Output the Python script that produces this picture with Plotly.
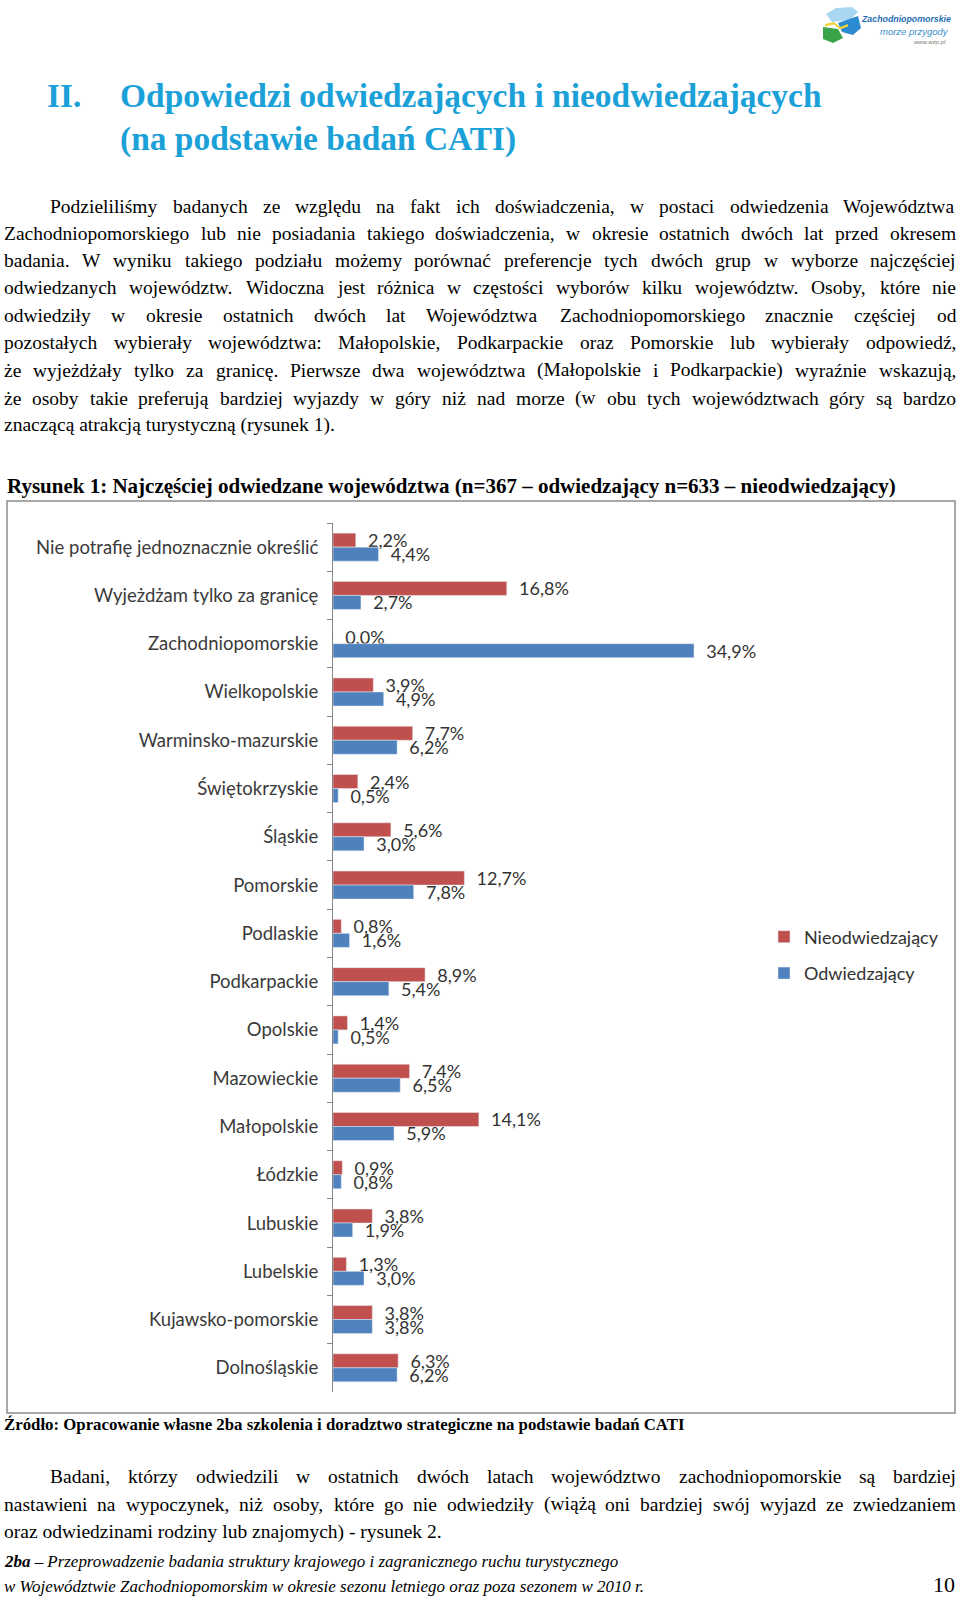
import plotly.graph_objects as go

W, H = 960, 1597

# ---------------- data ----------------
categories = ["Nie potrafię jednoznacznie określić", "Wyjeżdżam tylko za granicę",
              "Zachodniopomorskie", "Wielkopolskie", "Warminsko-mazurskie",
              "Świętokrzyskie", "Śląskie", "Pomorskie", "Podlaskie", "Podkarpackie",
              "Opolskie", "Mazowieckie", "Małopolskie", "Łódzkie", "Lubuskie",
              "Lubelskie", "Kujawsko-pomorskie", "Dolnośląskie"]
nieodwiedzajacy = [2.2, 16.8, 0.0, 3.9, 7.7, 2.4, 5.6, 12.7, 0.8, 8.9,
                   1.4, 7.4, 14.1, 0.9, 3.8, 1.3, 3.8, 6.3]
odwiedzajacy = [4.4, 2.7, 34.9, 4.9, 6.2, 0.5, 3.0, 7.8, 1.6, 5.4,
                0.5, 6.5, 5.9, 0.8, 1.9, 3.0, 3.8, 6.2]
series_names = ["Nieodwiedzający", "Odwiedzający"]
series_colors = ["#C0504D", "#4F81BD"]

# ---------------- page text ----------------
title_num = "II."
title_lines = ["Odpowiedzi odwiedzających i nieodwiedzających",
               "(na podstawie badań CATI)"]
para1 = ["Podzieliliśmy badanych ze względu na fakt ich doświadczenia, w postaci odwiedzenia Województwa",
         "Zachodniopomorskiego lub nie posiadania takiego doświadczenia, w okresie ostatnich dwóch lat przed okresem",
         "badania. W wyniku takiego podziału możemy porównać preferencje tych dwóch grup w wyborze najczęściej",
         "odwiedzanych województw. Widoczna jest różnica w częstości wyborów kilku województw. Osoby, które nie",
         "odwiedziły w okresie ostatnich dwóch lat Województwa Zachodniopomorskiego znacznie częściej od",
         "pozostałych wybierały województwa: Małopolskie, Podkarpackie oraz Pomorskie lub wybierały odpowiedź,",
         "że wyjeżdżały tylko za granicę. Pierwsze dwa województwa (Małopolskie i Podkarpackie) wyraźnie wskazują,",
         "że osoby takie preferują bardziej wyjazdy w góry niż nad morze (w obu tych województwach góry są bardzo",
         "znaczącą atrakcją turystyczną (rysunek 1)."]
figure_caption = "Rysunek 1: Najczęściej odwiedzane województwa (n=367 – odwiedzający n=633 – nieodwiedzający)"
source_text = "Źródło: Opracowanie własne 2ba szkolenia i doradztwo strategiczne na podstawie badań CATI"
para2 = ["Badani, którzy odwiedzili w ostatnich dwóch latach województwo zachodniopomorskie są bardziej",
         "nastawieni na wypoczynek, niż  osoby, które go nie odwiedziły (wiążą oni bardziej swój wyjazd ze zwiedzaniem",
         "oraz odwiedzinami rodziny lub znajomych) - rysunek 2."]
footer_bold = "2ba"
footer_lines = [" – Przeprowadzenie badania struktury krajowego i zagranicznego ruchu turystycznego",
                "w Województwie Zachodniopomorskim w okresie sezonu letniego oraz poza sezonem w 2010 r."]
page_number = "10"
logo_lines = ["Zachodniopomorskie", "morze przygody", "www.wzp.pl"]

# ---------------- approximate Times metrics ----------------
_TW = {}
for chars, w in [(" ", 250), (".,", 250), (":;", 278), ("()", 333), ("-", 333), ("–", 500),
                 ("=", 564), ("0123456789", 500), ("%", 833),
                 ("aceząćęźż", 444), ("bdghnopquvxykńó", 500), ("fr", 333), ("ijltł", 278),
                 ("m", 778), ("sś", 389), ("w", 722)]:
    for c in chars:
        _TW[c] = w
for c, w in dict(A=722, B=667, C=667, D=722, E=611, F=556, G=722, H=722, I=333, J=389, K=722,
                 L=611, M=889, N=722, O=722, P=556, Q=722, R=667, S=556, T=611, U=722, V=722,
                 W=944, X=722, Y=722, Z=611).items():
    _TW[c] = w
_TW.update({"Ś": 556, "Ź": 611, "Ż": 611, "Ł": 611})


def tw(s, bold=False, italic=False):
    f = 1.07 if bold else (0.97 if italic else 1.0)
    return sum(_TW.get(c, 500) for c in s) / 1000.0 * f


ann = []


def txt(s, x, y, size, color="#000000", family="Liberation Serif", anchor="left",
        bold=False, italic=False):
    t = s
    if bold:
        t = "<b>" + t + "</b>"
    if italic:
        t = "<i>" + t + "</i>"
    ann.append(dict(text=t, x=x / W, y=1 - y / H, xref="paper", yref="paper",
                    xanchor=anchor, yanchor="middle", showarrow=False, borderpad=0,
                    font=dict(size=size, color=color, family=family)))


def justify(line, y, x0, x1, size):
    words = line.split()
    ws = [tw(w) for w in words]
    nat = sum(ws)
    gaps = len(words) - 1
    s = min(size, (x1 - x0) / (nat + 0.2 * gaps))
    gap = (x1 - x0 - nat * s) / gaps
    x = x0
    for w, wd in zip(words, ws):
        txt(w, x, y, s)
        x += wd * s + gap
    return s


BODY = 19.5
RIGHT = 955

# title (bold, light blue)
tsize = min(38, (836 - 119) / tw(title_lines[0], bold=True))
txt(title_num, 46, 96, tsize, color="#1BA1D8", bold=True)
txt(title_lines[0], 119, 96, tsize, color="#1BA1D8", bold=True)
txt(title_lines[1], 119, 139, tsize, color="#1BA1D8", bold=True)

# paragraph 1
ys1 = [206, 233, 260.5, 288, 315.5, 343, 370.5, 398, 425.5]
for i, line in enumerate(para1):
    x0 = 49 if i == 0 else 3
    if i < len(para1) - 1:
        justify(line, ys1[i], x0, RIGHT, BODY)
    else:
        txt(line, x0, ys1[i], BODY)

# caption
csize = (922 - 6) / tw(figure_caption, bold=True)
txt(figure_caption, 6, 486, csize, bold=True)

# source
ssize = (688 - 3) / tw(source_text, bold=True)
txt(source_text, 3, 1424, ssize, bold=True)

# paragraph 2
ys2 = [1476, 1504, 1532]
s2 = BODY
for i, line in enumerate(para2):
    x0 = 49 if i == 0 else 3
    if i < len(para2) - 1:
        s2 = justify(line, ys2[i], x0, RIGHT, BODY)
    else:
        txt(line, x0, ys2[i], s2)

# footer
fsize = (638 - 3) / tw(footer_lines[1], italic=True)
ann.append(dict(text="<b><i>" + footer_bold + "</i></b><i>" + footer_lines[0] + "</i>",
                x=3 / W, y=1 - 1561 / H, xref="paper", yref="paper", xanchor="left",
                yanchor="middle", showarrow=False, borderpad=0,
                font=dict(size=fsize, color="#000", family="Liberation Serif")))
txt(footer_lines[1], 3, 1586, fsize, italic=True)
txt(page_number, 956, 1584, 22, anchor="right")

# logo text
txt(logo_lines[0], 952, 19, 8.8, color="#1F6FB2", family="Liberation Sans",
    bold=True, italic=True, anchor="right")
txt(logo_lines[1], 950, 32, 9.5, color="#3A8DC8", family="Liberation Sans", italic=True,
    anchor="right")
txt(logo_lines[2], 947, 42, 6, color="#7a7a7a", family="Liberation Sans", italic=True,
    anchor="right")


def poly(points, color):
    d = "M " + " L ".join(f"{x / W:.5f},{1 - y / H:.5f}" for x, y in points) + " Z"
    return dict(type="path", path=d, xref="paper", yref="paper", fillcolor=color,
                line=dict(width=0, color=color), layer="above")


shapes = [
    # chart frame
    dict(type="rect", xref="paper", yref="paper", x0=7 / W, x1=955 / W,
         y0=1 - 1413 / H, y1=1 - 501 / H, line=dict(color="#8C8C8C", width=1.5)),
    # logo
    poly([(826, 14), (836, 8), (852, 7), (858, 12), (850, 20), (832, 22)], "#A9D6F0"),
    poly([(838, 23), (858, 16), (861, 28), (853, 35), (842, 32)], "#2C8BD0"),
    poly([(823, 27), (838, 29), (843, 38), (833, 43), (823, 39)], "#3BA44A"),
    poly([(825, 24), (834, 22), (840, 27), (848, 24), (848, 26.5), (840, 29.5), (834, 24.5),
          (825, 26.5)], "#F2D43A"),
]

# ---------------- chart ----------------
fig = go.Figure()
for name, vals, col in zip(series_names, [nieodwiedzajacy, odwiedzajacy], series_colors):
    fig.add_trace(go.Bar(
        y=categories, x=vals, orientation="h", name=name, marker_color=col,
        texttemplate="\u00a0\u00a0%{x:.1f}%", textposition="outside", constraintext="none",
        cliponaxis=False, legendgroup=name,
        textfont=dict(family="Lato", size=18, color="#333333")))

x_axis_px = (333, 760)
px_per_unit = 10.344
fig.update_layout(
    width=W, height=H, margin=dict(l=0, r=0, t=0, b=0),
    paper_bgcolor="white", plot_bgcolor="white",
    separators=", ",
    barmode="group", bargap=0.42, bargroupgap=0,
    showlegend=True,
    legend=dict(x=764 / W, y=1 - 955 / H, xanchor="left", yanchor="middle",
                traceorder="grouped", tracegroupgap=10,
                font=dict(family="Lato", size=18, color="#333333"),
                bgcolor="rgba(0,0,0,0)"),
    xaxis=dict(domain=[x_axis_px[0] / W, x_axis_px[1] / W],
               range=[0, (x_axis_px[1] - x_axis_px[0]) / px_per_unit],
               visible=False, fixedrange=True),
    yaxis=dict(domain=[1 - 1392 / H, 1 - 523 / H], type="category",
               categoryorder="array", categoryarray=categories,
               range=[len(categories) - 0.5, -0.5],
               showline=True, linecolor="#868686", linewidth=1,
               ticks="outside", tickson="boundaries", ticklen=5, tickcolor="#868686",
               ticklabelstandoff=10, showgrid=False,
               tickfont=dict(family="Lato", size=18.5, color="#3A3A3A")),
    annotations=ann, shapes=shapes,
)

fig.write_html("out.html", config={"displayModeBar": False},
               post_script="document.body.style.margin='0px';"
                           "document.documentElement.style.overflow='hidden';"
                           "document.body.style.overflow='hidden';")
